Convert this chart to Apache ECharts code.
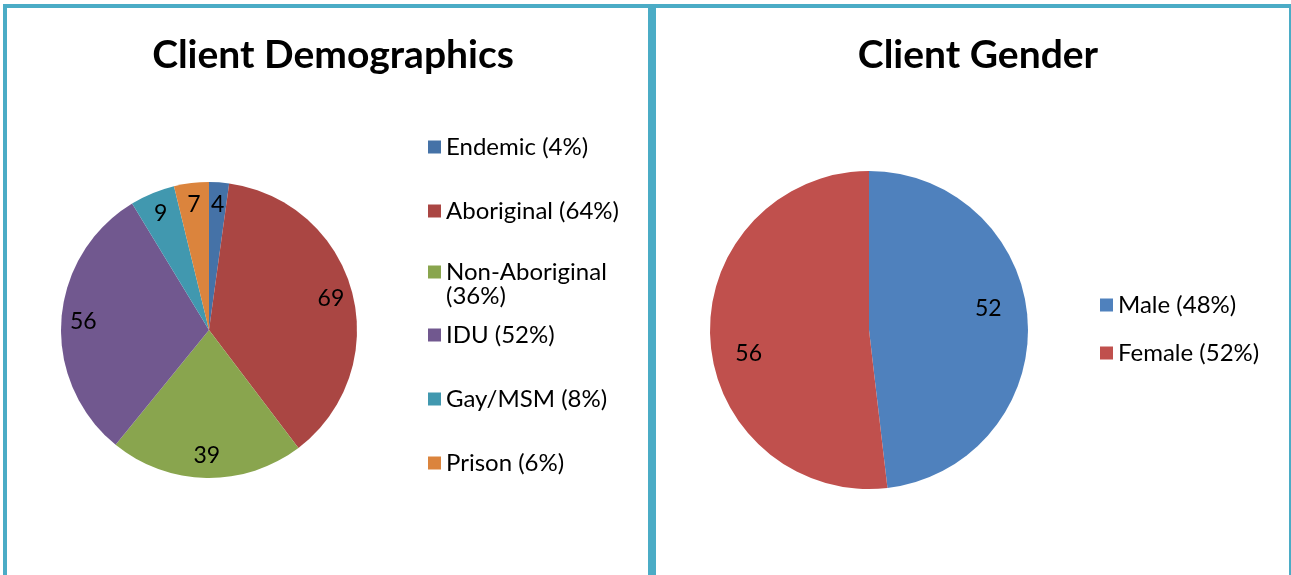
<!DOCTYPE html>
<html>
<head>
<meta charset="utf-8">
<script src="https://cdn.jsdelivr.net/npm/echarts@6/dist/echarts.min.js"></script>
<style>
  html, body { margin: 0; padding: 0; background: #fff; }
  #main { width: 1291px; height: 575px; }
</style>
</head>
<body>
<div id="main"></div>
<script>
// data
const demoNames = ["Endemic (4%)", "Aboriginal (64%)", "Non-Aboriginal (36%)", "IDU (52%)", "Gay/MSM (8%)", "Prison (6%)"];
const demoValues = [4, 69, 39, 56, 9, 7];
const demoColors = ["#4572A7", "#AA4643", "#89A54E", "#71588F", "#4198AF", "#DB843D"];

const genderNames = ["Male (48%)", "Female (52%)"];
const genderValues = [52, 56];
const genderColors = ["#4F81BD", "#C0504D"];

const FONT = "Lato, 'Open Sans', sans-serif";
const BORDER = "#4BACC6";

const chart = echarts.init(document.getElementById("main"), null, { renderer: "canvas" });

const toData = (names, values, colors) =>
  names.map((n, i) => ({ name: n, value: values[i], itemStyle: { color: colors[i] } }));

// legend layout (one legend per row so rows sit where Excel put them)
const demoLegendTop = [135, 199, 236, 323, 387, 451];
const genderLegendTop = [293, 341];
// Excel nudged the gender value labels off the mid-angle a little
const genderLabelOffset = [[-7, -14], [6, 16]];

// long names wrap after the word; a blank first line keeps the key next to line one
function wrapName(name) {
  if (name.length <= 18) return name;
  const i = name.lastIndexOf(" ");
  return "\n" + name.slice(0, i) + "\n" + name.slice(i + 1);
}

function legendItem(name, left, top) {
  return {
    left: left,
    top: top,
    orient: "vertical",
    data: [name],
    icon: "rect",
    itemWidth: 13,
    itemHeight: 13,
    selectedMode: false,
    padding: 0,
    formatter: wrapName,
    textStyle: {
      fontFamily: FONT,
      fontSize: 24,
      color: "#000",
      lineHeight: 24,
    },
  };
}

const legends = [
  ...demoNames.map((n, i) => legendItem(n, 428, demoLegendTop[i])),
  ...genderNames.map((n, i) => legendItem(n, 1100, genderLegendTop[i])),
];

function pieShape(center, r, data) {
  return {
    type: "pie",
    center: center,
    radius: r,
    startAngle: 90,
    clockwise: true,
    silent: true,
    label: { show: false },
    labelLine: { show: false },
    itemStyle: { borderWidth: 0 },
    emphasis: { disabled: true },
    data: data,
  };
}

// transparent ring that only carries the value labels (Excel puts them ~0.8r out)
function pieLabels(center, r0, r, data, offsets) {
  return {
    type: "pie",
    center: center,
    radius: [r0, r],
    startAngle: 90,
    clockwise: true,
    silent: true,
    avoidLabelOverlap: false,
    minShowLabelAngle: 0,
    itemStyle: { color: "rgba(0,0,0,0)", borderWidth: 0 },
    label: {
      show: true,
      position: "inside",
      formatter: "{c}",
      fontFamily: FONT,
      fontSize: 23,
      color: "#000",
    },
    labelLine: { show: false },
    emphasis: { disabled: true },
    data: data.map((d, i) => {
      const item = { name: d.name, value: d.value };
      if (offsets) item.label = { offset: offsets[i] };
      return item;
    }),
  };
}

const demoData = toData(demoNames, demoValues, demoColors);
const genderData = toData(genderNames, genderValues, genderColors);

const titleStyle = { fontFamily: FONT, fontWeight: "bold", fontSize: 39, color: "#000" };

const option = {
  animation: false,
  title: [
    { text: "Client Demographics", left: 328, top: 31, textAlign: "center", textStyle: titleStyle },
    { text: "Client Gender", left: 973, top: 31, textAlign: "center", textStyle: titleStyle },
  ],
  legend: legends,
  graphic: [
    { type: "rect", shape: { x: 3, y: 4, width: 1288, height: 4 }, style: { fill: BORDER } },
    { type: "rect", shape: { x: 3, y: 4, width: 4, height: 571 }, style: { fill: BORDER } },
    { type: "rect", shape: { x: 648, y: 4, width: 8, height: 571 }, style: { fill: BORDER } },
    { type: "rect", shape: { x: 1289, y: 4, width: 2, height: 571 }, style: { fill: BORDER } },
  ],
  series: [
    pieShape([209, 330], 148, demoData),
    pieShape([869, 330], 159, genderData),
    pieLabels([209, 330], 98, 148, demoData),
    pieLabels([869, 330], 88, 159, genderData, genderLabelOffset),
  ],
};

chart.setOption(option);
</script>
</body>
</html>
